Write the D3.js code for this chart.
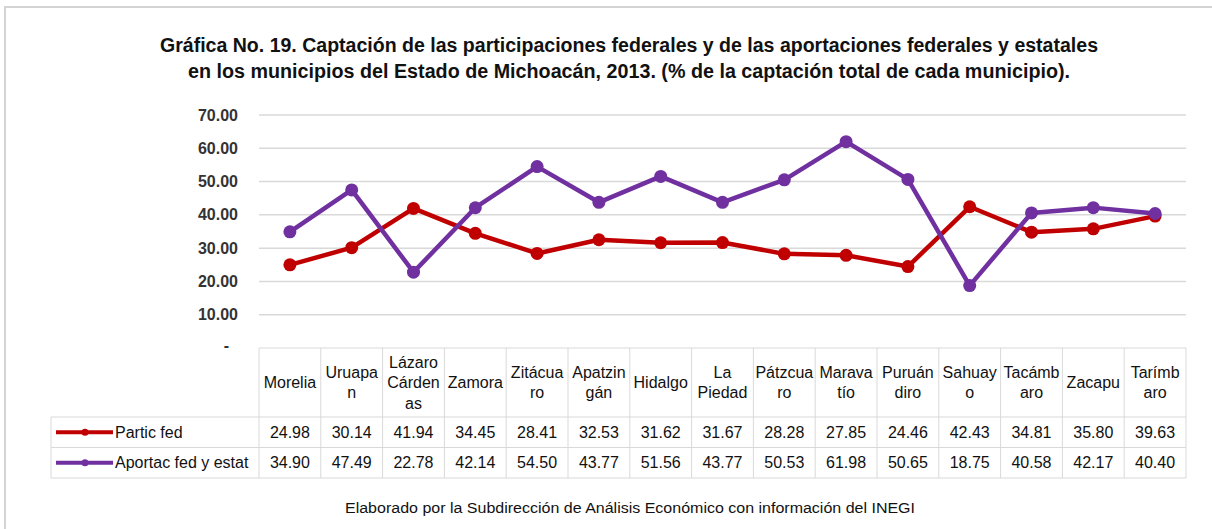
<!DOCTYPE html>
<html>
<head>
<meta charset="utf-8">
<script src="https://cdn.jsdelivr.net/npm/d3@7"></script>
<style>
  body { margin: 0; background: #fff; }
  svg { display: block; font-family: "Liberation Sans", Arial, sans-serif; }
</style>
</head>
<body>
<script>
// categories as they are wrapped in the table header
const municipios = [
  ["Morelia"], ["Uruapa", "n"], ["Lázaro", "Cárden", "as"], ["Zamora"],
  ["Zitácua", "ro"], ["Apatzin", "gán"], ["Hidalgo"], ["La", "Piedad"],
  ["Pátzcua", "ro"], ["Marava", "tío"], ["Puruán", "diro"], ["Sahuay", "o"],
  ["Tacámb", "aro"], ["Zacapu"], ["Tarímb", "aro"]
];
const particFed = [24.98, 30.14, 41.94, 34.45, 28.41, 32.53, 31.62, 31.67, 28.28, 27.85, 24.46, 42.43, 34.81, 35.80, 39.63];
const aportacFed = [34.90, 47.49, 22.78, 42.14, 54.50, 43.77, 51.56, 43.77, 50.53, 61.98, 50.65, 18.75, 40.58, 42.17, 40.40];
const yTicks = [0, 10, 20, 30, 40, 50, 60, 70];
const seriesNames = ["Partic fed", "Aportac fed y estat"];
const seriesColors = ["#c00000", "#7030a0"];

const W = 1212, H = 529;
const svg = d3.select("body").append("svg").attr("width", W).attr("height", H);

// frame
svg.append("line").attr("x1", 4).attr("x2", W).attr("y1", 7).attr("y2", 7)
  .attr("stroke", "#d4d4d4").attr("stroke-width", 2);
svg.append("line").attr("x1", 5).attr("x2", 5).attr("y1", 7).attr("y2", H)
  .attr("stroke", "#d4d4d4").attr("stroke-width", 2);

// title
const titleLines = [
  { t: "Gráfica No. 19. Captación de las participaciones federales y de las aportaciones federales y estatales", y: 52, w: 938 },
  { t: "en los municipios del Estado de Michoacán, 2013. (% de la captación total de cada municipio).", y: 78, w: 882 }
];
svg.selectAll("text.title").data(titleLines).enter().append("text")
  .attr("class", "title")
  .attr("x", 629).attr("y", d => d.y)
  .attr("text-anchor", "middle")
  .attr("font-size", 19.5).attr("font-weight", "bold").attr("fill", "#111")
  .attr("textLength", d => d.w).attr("lengthAdjust", "spacingAndGlyphs")
  .text(d => d.t);

// scales
const x = d3.scaleBand().domain(d3.range(municipios.length)).range([259, 1186]);
const y = d3.scaleLinear().domain([0, 70]).range([348, 115]);
const cx = i => x(i) + x.bandwidth() / 2;

// gridlines
svg.selectAll("line.grid").data(yTicks.filter(v => v > 0)).enter().append("line")
  .attr("x1", 259).attr("x2", 1186)
  .attr("y1", d => y(d)).attr("y2", d => y(d))
  .attr("stroke", "#d9d9d9").attr("stroke-width", 1.5);

// y labels
svg.selectAll("text.ylab").data(yTicks).enter().append("text")
  .attr("x", d => d === 0 ? 229 : 238)
  .attr("y", d => y(d) + 5.5 - (d === 0 ? 3 : 0))
  .attr("text-anchor", "end")
  .attr("font-size", 16).attr("font-weight", "bold").attr("fill", "#333")
  .text(d => d === 0 ? "-" : d.toFixed(2));

// lines and markers
const series = [particFed, aportacFed];
const line = d3.line().x((d, i) => cx(i)).y(d => y(d));
series.forEach((vals, s) => {
  svg.append("path").datum(vals)
    .attr("d", line)
    .attr("fill", "none")
    .attr("stroke", seriesColors[s]).attr("stroke-width", 4.5)
    .attr("stroke-linejoin", "round");
  svg.selectAll("circle.s" + s).data(vals).enter().append("circle")
    .attr("cx", (d, i) => cx(i)).attr("cy", d => y(d))
    .attr("r", 6.5).attr("fill", seriesColors[s]);
});

// data table
const tTop = 348, hBot = 417, r1Bot = 447.5, r2Bot = 478, legLeft = 51;
const border = "#d9d9d9";
const g = svg.append("g").attr("stroke", border).attr("stroke-width", 1);
// horizontal lines
g.append("line").attr("x1", 259).attr("x2", 1186).attr("y1", tTop).attr("y2", tTop);
[hBot, r1Bot, r2Bot].forEach(yy =>
  g.append("line").attr("x1", legLeft).attr("x2", 1186).attr("y1", yy).attr("y2", yy));
// vertical lines
g.selectAll("line.v").data(d3.range(municipios.length + 1)).enter().append("line")
  .attr("x1", i => 259 + i * x.bandwidth()).attr("x2", i => 259 + i * x.bandwidth())
  .attr("y1", tTop).attr("y2", r2Bot);
g.append("line").attr("x1", legLeft).attr("x2", legLeft).attr("y1", hBot).attr("y2", r2Bot);

// header labels
const hdr = svg.selectAll("text.hdr").data(municipios).enter().append("text")
  .attr("text-anchor", "middle")
  .attr("font-size", 16).attr("fill", "#111");
hdr.each(function (lines, i) {
  const n = lines.length;
  const mid = (tTop + hBot) / 2 + 5.5;
  d3.select(this).selectAll("tspan").data(lines).enter().append("tspan")
    .attr("x", cx(i))
    .attr("y", (d, k) => mid + (k - (n - 1) / 2) * 20.5)
    .text(d => d);
});

// value rows
const rowMid = [(hBot + r1Bot) / 2 + 5.5, (r1Bot + r2Bot) / 2 + 5.5];
series.forEach((vals, s) => {
  svg.selectAll("text.val" + s).data(vals).enter().append("text")
    .attr("x", (d, i) => cx(i)).attr("y", rowMid[s])
    .attr("text-anchor", "middle")
    .attr("font-size", 16).attr("fill", "#111")
    .text(d => d.toFixed(2));
  // legend key
  const ly = rowMid[s] - 5.5;
  svg.append("line").attr("x1", 56).attr("x2", 113).attr("y1", ly).attr("y2", ly)
    .attr("stroke", seriesColors[s]).attr("stroke-width", 4);
  svg.append("circle").attr("cx", 85).attr("cy", ly).attr("r", 3.5).attr("fill", seriesColors[s]);
  svg.append("text").attr("x", 115).attr("y", rowMid[s])
    .attr("font-size", 16).attr("fill", "#111")
    .text(seriesNames[s]);
});

// footer
svg.append("text").attr("x", 630).attr("y", 513)
  .attr("text-anchor", "middle").attr("font-size", 14).attr("fill", "#111")
  .attr("textLength", 570).attr("lengthAdjust", "spacingAndGlyphs")
  .text("Elaborado por la Subdirección de Análisis Económico con información del INEGI");
</script>
</body>
</html>
